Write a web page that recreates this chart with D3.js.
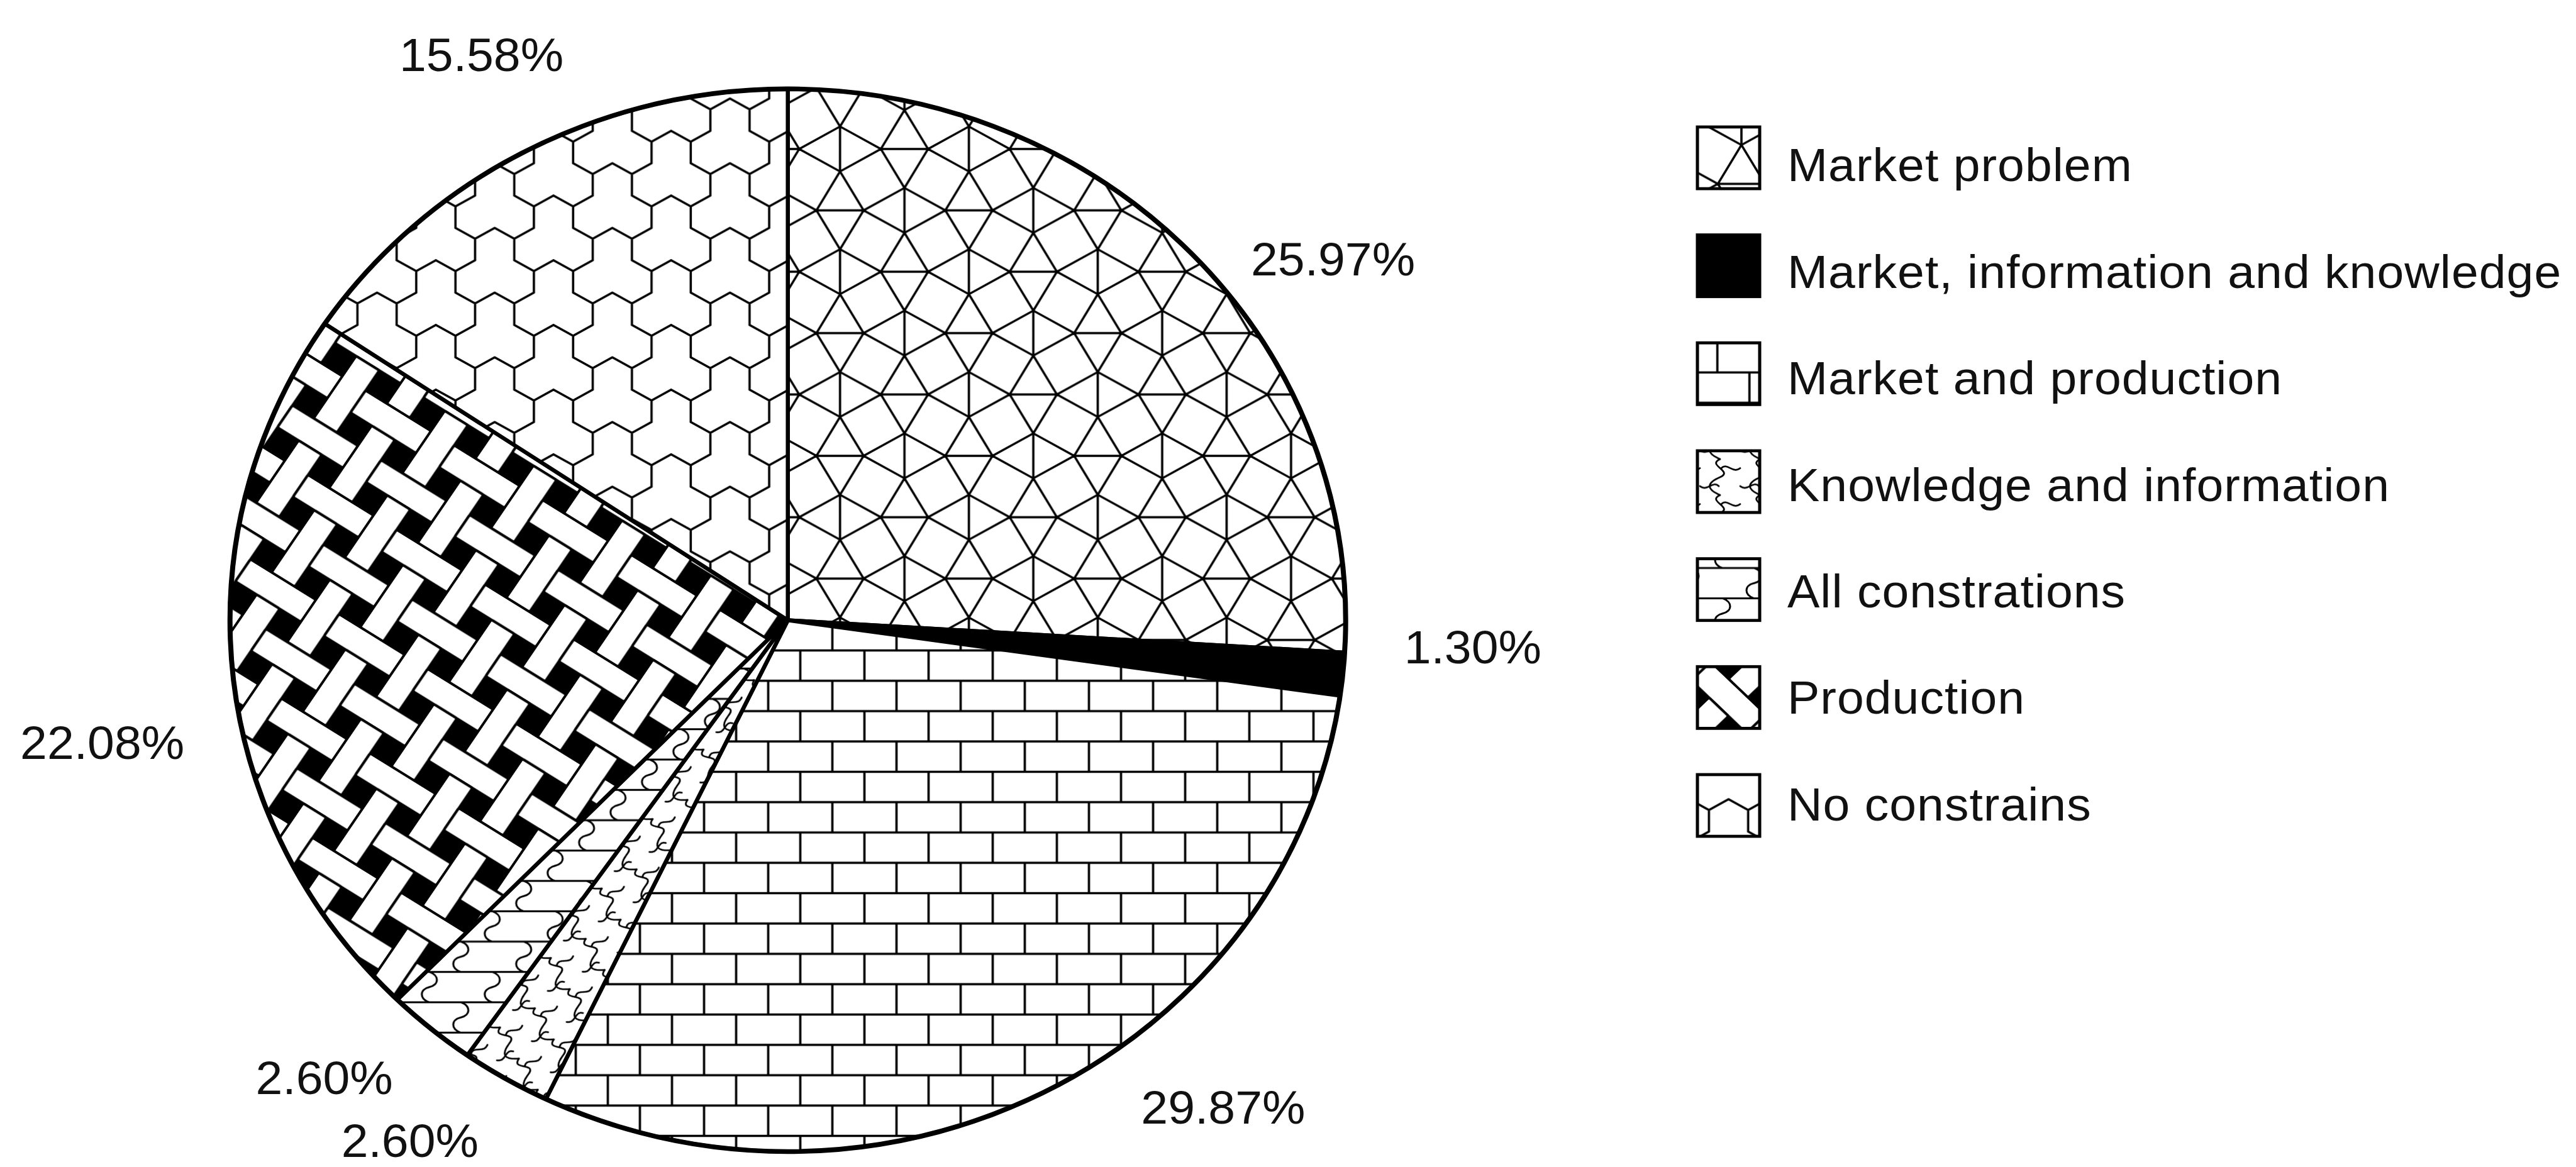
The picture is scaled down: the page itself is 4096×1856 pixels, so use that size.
<!DOCTYPE html>
<html><head><meta charset="utf-8">
<script src="https://cdn.jsdelivr.net/npm/d3@7"></script>
<style>html,body{margin:0;padding:0;background:#fff;} svg{display:block;}</style>
</head><body>
<svg id="chart" width="4096" height="1856"></svg>
<script>
// ---------- data ----------
const categories = ["Market problem","Market, information and knowledge","Market and production","Knowledge and information","All constrations","Production","No constrains"];
const values = [25.97, 1.30, 29.87, 2.60, 2.60, 22.08, 15.58];
const valueLabels = ["25.97%","1.30%","29.87%","2.60%","2.60%","22.08%","15.58%"];
const patternKeys = ["snub","solid","brick","wave","stone","weave","trihex"];

// ---------- layout ----------
const ys = 0.9527;                 // vertical squash of the scanned original
const cx = 1252.7, cy = 986.4 / ys, R = 887;
const labelShift = [8.43, -3.48, -12.34, 4.3, 4.26, -4.77, 0.77];   // degrees from slice middle
const labelRadius = [1056, 1090, 1068, 1056, 1061, 1109, 1063];
const FONT = "'Liberation Sans', Arial, Helvetica, sans-serif";
const PW = 3.6;   // pattern line width

const svg = d3.select("#chart");
svg.append("rect").attr("width",4096).attr("height",1856).attr("fill","#fff");
const defs = svg.append("defs");
const root = svg.append("g").attr("transform", `scale(1,${ys})`);

// ---------- pattern builders ----------
function newPattern(id, w, h, tf) {
  const p = defs.append("pattern").attr("id", id).attr("patternUnits","userSpaceOnUse")
    .attr("width", w).attr("height", h).attr("patternTransform", tf);
  p.append("rect").attr("width", w).attr("height", h).attr("fill", "#fff");
  return p;
}
const f2 = v => v.toFixed(2);
const seg = (A,B) => `M${f2(A[0])},${f2(A[1])}L${f2(B[0])},${f2(B[1])}`;
function strokePath(p, d, sw) {
  p.append("path").attr("d", d).attr("fill","none").attr("stroke","#000")
    .attr("stroke-width", sw).attr("stroke-linecap","round").attr("stroke-linejoin","round");
}

function snub(id, tf, a) {
  const P = a*(1+Math.sqrt(3)), h = a*Math.sqrt(3)/2;
  const p = newPattern(id, P, P, tf);
  let d = "";
  for (let i=-1;i<=2;i++) for (let j=-1;j<=2;j++) {
    [[i*P, j*P],[i*P+P/2, j*P+P/2]].forEach(([x,y]) => {
      const A=[x-a/2,y],B=[x+a/2,y],C=[x,y-h],D=[x,y+h];
      d += seg(A,B)+seg(A,C)+seg(B,C)+seg(A,D)+seg(B,D);
    });
    [[i*P+P/2, j*P],[i*P, j*P+P/2]].forEach(([x,y]) => {
      const A=[x,y-a/2],B=[x,y+a/2],C=[x-h,y],D=[x+h,y];
      d += seg(A,B)+seg(A,C)+seg(B,C)+seg(A,D)+seg(B,D);
    });
  }
  strokePath(p, d, PW);
}

function brick(id, tf, bw, bh) {
  const p = newPattern(id, bw, 2*bh, tf);
  const d = `M0,0H${bw}M0,${bh}H${bw}M0,${2*bh}H${bw}M0,0V${bh}M${bw},0V${bh}M${bw/2},${bh}V${2*bh}`;
  strokePath(p, d, PW);
}

function stone(id, tf, bw, bh) {
  const p = newPattern(id, bw, 2*bh, tf);
  const joint = (x, y0) => `M${x},${y0}C${x+16},${y0+bh*0.12} ${x+16},${y0+bh*0.42} ${x},${y0+bh*0.5}` +
                           `C${x-16},${y0+bh*0.58} ${x-16},${y0+bh*0.88} ${x},${y0+bh}`;
  let d = `M0,0H${bw}M0,${bh}H${bw}M0,${2*bh}H${bw}`;
  d += joint(0,0) + joint(bw,0) + joint(bw/2,bh) + joint(bw/2,-bh) + joint(0,2*bh) + joint(bw,2*bh);
  strokePath(p, d, 3);
}

function wave(id, tf) {
  const w = 64, h = 60;
  const p = newPattern(id, w, h, tf);
  let d = "";
  for (let dx=-w; dx<=w; dx+=w) for (let dy=-h; dy<=h; dy+=h) {
    const X = 32+dx, Y = dy;
    d += `M${X},${Y}C${X-22},${Y+10} ${X+22},${Y+20} ${X},${Y+30}S${X-22},${Y+50} ${X},${Y+60}`;
    d += `M${X+2},${Y+15}C${X+12},${Y+5} ${X+20},${Y+25} ${X+32},${Y+15}`;
    d += `M${X-2},${Y+45}C${X-12},${Y+35} ${X-20},${Y+55} ${X-32},${Y+45}`;
  }
  strokePath(p, d, 2.8);
}

function weave(id, tf, w, g) {
  const q = w + g, T = 2*q;
  const p = newPattern(id, T, T, tf);
  p.append("rect").attr("width", T).attr("height", T).attr("fill", "#000");
  const rects = [];
  for (let j=-1;j<=2;j++) for (let k=-1;k<=2;k++) {
    if ((((j+k)%2)+2)%2 === 0) rects.push([j*q-g, k*q, w+2*g, w]);
    else rects.push([j*q, k*q-g, w, w+2*g]);
  }
  p.selectAll("rect.bar").data(rects).join("rect").attr("class","bar")
    .attr("x", r=>r[0]).attr("y", r=>r[1]).attr("width", r=>r[2]).attr("height", r=>r[3])
    .attr("rx", 3)
    .attr("fill","#fff").attr("stroke","#000").attr("stroke-width",4);
}

function trihex(id, tf, s) {
  const r3 = Math.sqrt(3), TW = 3*s*r3, TH = 3*s;
  const p = newPattern(id, TW, TH, tf);
  const key = q => Math.round(q[0]*10) + "," + Math.round(q[1]*10);
  const hexes = [];
  for (let i=-6;i<=7;i++) for (let j=-4;j<=6;j++) {
    const c = [i*s*r3 + j*s*r3/2, j*1.5*s - s];
    if (c[0] < -3*s || c[0] > TW+3*s || c[1] < -3*s || c[1] > TH+3*s) continue;
    hexes.push({i, j, c});
  }
  const centers = new Set();
  hexes.forEach(hx => { if ((((hx.i-hx.j)%3)+3)%3 === 0) centers.add(key([hx.c[0], hx.c[1]+s])); });
  let d = "";
  hexes.forEach(hx => {
    const v = d3.range(6).map(k => {
      const t = (-90 + 60*k) * Math.PI/180;
      return [hx.c[0] + s*Math.cos(t), hx.c[1] + s*Math.sin(t)];
    });
    for (let k=0;k<6;k++) {
      const A = v[k], B = v[(k+1)%6];
      if (centers.has(key(A)) || centers.has(key(B))) continue;
      d += seg(A,B);
    }
  });
  strokePath(p, d, PW);
}

function buildPattern(key, id, tf) {
  if (key === "snub") snub(id, tf, 75);
  else if (key === "brick") brick(id, tf, 102, 50.65);
  else if (key === "stone") stone(id, tf, 100, 50.65);
  else if (key === "wave") wave(id, tf);
  else if (key === "weave") weave(id, tf, 44, 40);
  else if (key === "trihex") trihex(id, tf, 36);
}

// patterns for the pie (in pie-local coordinates)
const piePhase = {
  snub: "translate(83,-684.2)",
  brick: "translate(-31.2,708.9)",
  stone: "translate(-20,30)",
  wave: "translate(0,0) rotate(-30)",
  weave: "translate(-802,8.6) rotate(33) translate(-64,-64)",
  trihex: "translate(-92,-798.8)"
};
patternKeys.forEach(k => { if (k !== "solid") buildPattern(k, "pie-" + k, piePhase[k]); });

// ---------- pie ----------
const arcs = d3.pie().sort(null).value(d => d)(values);
const arc = d3.arc().innerRadius(0).outerRadius(R);
const gPie = root.append("g").attr("transform", `translate(${cx},${cy})`);

gPie.selectAll("path.slice").data(arcs).join("path").attr("class","slice")
  .attr("d", arc)
  .attr("fill", (d,i) => patternKeys[i] === "solid" ? "#000" : `url(#pie-${patternKeys[i]})`)
  .attr("stroke","#000").attr("stroke-width",6.5).attr("stroke-linejoin","round");

gPie.append("circle").attr("r", R).attr("fill","none").attr("stroke","#000").attr("stroke-width",8);

gPie.selectAll("text.pct").data(arcs).join("text").attr("class","pct")
  .attr("x", (d,i) => labelRadius[i] * Math.sin((d.startAngle+d.endAngle)/2 + labelShift[i]*Math.PI/180))
  .attr("y", (d,i) => -labelRadius[i] * Math.cos((d.startAngle+d.endAngle)/2 + labelShift[i]*Math.PI/180))
  .attr("dy","0.358em").attr("text-anchor","middle")
  .attr("font-family", FONT).attr("font-size", 77).attr("fill","#111")
  .text((d,i) => valueLabels[i]);

// ---------- legend ----------
const boxX = 2699, boxW = 99, boxH = 103, textX = 2842;
const boxY = d3.scalePoint().domain(categories).range([251/ys, 1281/ys]);
const textY = d3.scalePoint().domain(categories).range([262.2/ys, 1278.6/ys]);

const legendPhase = (k, bx, by) => ({
  snub: `translate(${bx+70},${by+95})`,
  brick: `translate(${bx+31.7},${by-1.25})`,
  stone: `translate(${bx+90},${by+15.5})`,
  wave: `translate(${bx+4},${by+14})`,
  weave: `translate(${bx+boxW/2},${by+boxH/2}) rotate(45) translate(-22,-22)`,
  trihex: `translate(${bx+boxW/2},${by+boxH*0.05})`
})[k];

categories.forEach((c,i) => {
  const k = patternKeys[i];
  const bx = boxX, by = boxY(c) - boxH/2;
  if (k !== "solid") buildPattern(k, "lg-" + k, legendPhase(k, bx, by));
});

const gLeg = root.append("g");
gLeg.selectAll("rect.box").data(categories).join("rect").attr("class","box")
  .attr("x", boxX).attr("y", c => boxY(c) - boxH/2).attr("width", boxW).attr("height", boxH)
  .attr("fill", (c,i) => patternKeys[i] === "solid" ? "#000" : `url(#lg-${patternKeys[i]})`)
  .attr("stroke","#000").attr("stroke-width",5);

gLeg.selectAll("text.lg").data(categories).join("text").attr("class","lg")
  .attr("x", textX).attr("y", c => textY(c)).attr("dy","0.358em")
  .attr("font-family", FONT).attr("font-size", 77).attr("letter-spacing", 1).attr("fill","#111")
  .text(c => c);
</script>
</body></html>
